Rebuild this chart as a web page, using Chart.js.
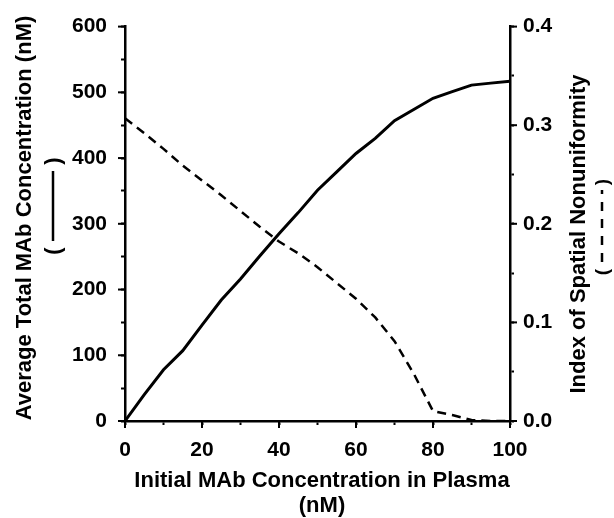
<!DOCTYPE html>
<html>
<head>
<meta charset="utf-8">
<script src="https://cdn.jsdelivr.net/npm/chart.js@4/dist/chart.umd.min.js"></script>
<style>
  html, body { margin: 0; padding: 0; background: #fff; }
  canvas { display: block; }
</style>
</head>
<body>
<canvas id="chart" width="614" height="518"></canvas>
<script>
// Значения
const plasmaConc = [0, 5, 10, 15, 20, 25, 30, 35, 40, 45, 50, 55, 60, 65, 70, 75, 80, 85, 90, 95, 100];
const avgTotalConc = [0, 40, 78, 107, 146, 184, 216, 251, 285, 317, 351, 379, 407, 430, 457, 474, 491, 501, 511, 514, 517];
const nonuniformity = [0.307, 0.292, 0.276, 0.259, 0.244, 0.229, 0.213, 0.197, 0.182, 0.170, 0.156, 0.140, 0.124, 0.105, 0.081, 0.048, 0.010, 0.006, 0.001, 0, 0];

const FONT = '"Liberation Sans", Arial, Helvetica, sans-serif';
const MINOR_TICK = 4;
const MAJOR_TICK = 7;

function toPoints(xs, ys) {
  return xs.map((x, i) => ({ x: x, y: ys[i] }));
}

// Подписанные деления делаем длиннее остальных
const majorTicks = {
  id: 'majorTicks',
  afterDraw(chart) {
    const ctx = chart.ctx;
    const area = chart.chartArea;
    ctx.save();
    ctx.strokeStyle = '#000';
    ctx.lineWidth = 2;
    ['x', 'y', 'y1'].forEach((id) => {
      const scale = chart.scales[id];
      scale.ticks.forEach((t, i) => {
        if (!scale._labelItems || !scale._labelItems[i] || scale._labelItems[i].label === '') return;
        const p = scale.getPixelForTick(i);
        ctx.beginPath();
        if (id === 'x') {
          ctx.moveTo(p, area.bottom);
          ctx.lineTo(p, area.bottom + MAJOR_TICK);
        } else if (id === 'y') {
          ctx.moveTo(area.left, p);
          ctx.lineTo(area.left - MAJOR_TICK, p);
        } else {
          ctx.moveTo(area.right, p);
          ctx.lineTo(area.right + MAJOR_TICK, p);
        }
        ctx.stroke();
      });
    });
    ctx.restore();
  }
};

// Подписи осей рисуем сами: обе вертикальные читаются снизу вверх
const axisTitles = {
  id: 'axisTitles',
  afterDraw(chart) {
    const ctx = chart.ctx;
    ctx.save();
    ctx.fillStyle = '#000';
    ctx.strokeStyle = '#000';
    ctx.font = 'bold 22px ' + FONT;
    ctx.textAlign = 'center';
    ctx.textBaseline = 'alphabetic';

    // ось X
    ctx.fillText('Initial MAb Concentration in Plasma', 322, 487);
    ctx.fillText('(nM)', 322, 512);

    // левая ось
    ctx.save();
    ctx.translate(31, 218);
    ctx.rotate(-Math.PI / 2);
    ctx.fillText('Average Total MAb Concentration (nM)', 0, 0);
    ctx.restore();

    ctx.save();
    ctx.translate(60, 206);
    ctx.rotate(-Math.PI / 2);
    ctx.fillText('(', -45, 0);
    ctx.fillText(')', 45, 0);
    ctx.lineWidth = 2.5;
    ctx.beginPath();
    ctx.moveTo(-35, -7);
    ctx.lineTo(35, -7);
    ctx.stroke();
    ctx.restore();

    // правая ось
    ctx.save();
    ctx.translate(585, 234);
    ctx.rotate(-Math.PI / 2);
    ctx.fillText('Index of Spatial Nonuniformity', 0, 0);
    ctx.restore();

    ctx.save();
    ctx.translate(608, 227);
    ctx.rotate(-Math.PI / 2);
    ctx.font = 'bold 19px ' + FONT;
    ctx.fillText('(', -45, 0);
    ctx.fillText(')', 45, 0);
    ctx.lineWidth = 2.5;
    ctx.setLineDash([9, 8]);
    ctx.beginPath();
    ctx.moveTo(-35, -6);
    ctx.lineTo(37, -6);
    ctx.stroke();
    ctx.restore();

    ctx.restore();
  }
};

function axisGrid() {
  return {
    drawOnChartArea: false,
    drawTicks: true,
    tickLength: MINOR_TICK,
    tickWidth: 2,
    tickColor: '#000'
  };
}

const ctx = document.getElementById('chart').getContext('2d');
new Chart(ctx, {
  type: 'line',
  data: {
    datasets: [{
      label: 'Average Total MAb Concentration',
      data: toPoints(plasmaConc, avgTotalConc),
      yAxisID: 'y',
      borderColor: '#000',
      borderWidth: 3,
      pointRadius: 0,
      tension: 0,
      fill: false
    }, {
      label: 'Index of Spatial Nonuniformity',
      data: toPoints(plasmaConc, nonuniformity),
      yAxisID: 'y1',
      borderColor: '#000',
      borderWidth: 2.5,
      borderDash: [9, 6],
      pointRadius: 0,
      tension: 0,
      fill: false
    }]
  },
  options: {
    responsive: false,
    animation: false,
    layout: { padding: { top: 23, left: 0, right: 0, bottom: 0 } },
    plugins: {
      legend: { display: false },
      tooltip: { enabled: false }
    },
    scales: {
      x: {
        type: 'linear',
        min: 0,
        max: 100,
        grid: axisGrid(),
        border: { display: true, color: '#000', width: 2.5 },
        ticks: {
          stepSize: 10,
          autoSkip: false,
          maxRotation: 0,
          padding: 13,
          color: '#000',
          font: { family: FONT, size: 21, weight: 'bold' },
          callback: (v) => (v % 20 === 0 ? String(v) : '')
        },
        afterFit: (scale) => { scale.height = 97; }
      },
      y: {
        position: 'left',
        min: 0,
        max: 600,
        grid: axisGrid(),
        border: { display: true, color: '#000', width: 2.5 },
        ticks: {
          stepSize: 50,
          autoSkip: false,
          padding: 14,
          color: '#000',
          font: { family: FONT, size: 21, weight: 'bold' },
          callback: (v) => (v % 100 === 0 ? String(v) : '')
        },
        afterFit: (scale) => { scale.width = 125; }
      },
      y1: {
        position: 'right',
        min: 0,
        max: 0.4,
        grid: axisGrid(),
        border: { display: true, color: '#000', width: 2.5 },
        ticks: {
          stepSize: 0.05,
          autoSkip: false,
          padding: 9,
          color: '#000',
          font: { family: FONT, size: 21, weight: 'bold' },
          callback: (v, i) => (i % 2 === 0 ? v.toFixed(1) : '')
        },
        afterFit: (scale) => { scale.width = 104; }
      }
    }
  },
  plugins: [majorTicks, axisTitles]
});
</script>
</body>
</html>
